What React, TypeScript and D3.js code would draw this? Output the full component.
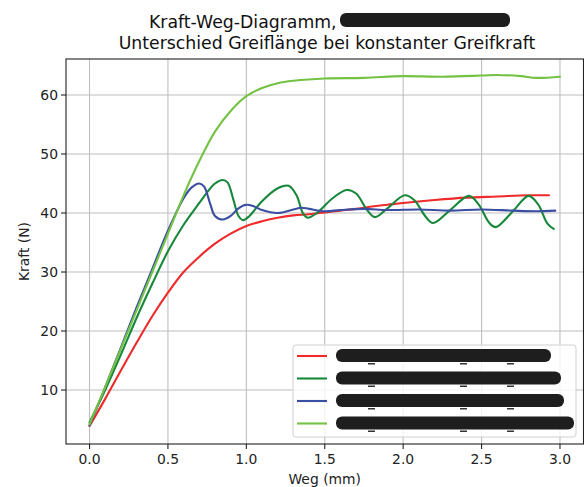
import * as d3 from 'd3'

// Weg (mm) / Kraft (N), one pair of arrays per curve
const wegRot = [0, 0.1, 0.2, 0.3, 0.4, 0.5, 0.6, 0.7, 0.8, 0.9, 1.0, 1.1, 1.2, 1.3, 1.4, 1.5, 1.6, 1.7, 1.8, 1.9, 2.0, 2.2, 2.4, 2.6, 2.8, 2.93]
const kraftRot = [3.9, 8.5, 13.3, 18, 22.5, 26.5, 30, 32.6, 34.8, 36.5, 37.8, 38.6, 39.2, 39.6, 39.8, 40.1, 40.4, 40.7, 41.1, 41.4, 41.7, 42.2, 42.6, 42.8, 43.0, 43.0]

const wegDunkelgruen = [0, 0.1, 0.2, 0.3, 0.4, 0.5, 0.6, 0.7, 0.75, 0.8, 0.85, 0.88, 0.92, 0.95, 0.98, 1.02, 1.1, 1.2, 1.27, 1.32, 1.36, 1.39, 1.45, 1.55, 1.64, 1.7, 1.77, 1.82, 1.9, 2.01, 2.07, 2.14, 2.19, 2.3, 2.42, 2.48, 2.55, 2.59, 2.7, 2.8, 2.86, 2.92, 2.96]
const kraftDunkelgruen = [4.5, 10, 16, 22.2, 28, 33.5, 38, 41.7, 43.5, 45, 45.6, 45.2, 42, 39.5, 38.8, 39.5, 42, 44.2, 44.6, 43, 40, 39.2, 40, 42.5, 43.9, 43.3, 40.5, 39.3, 40.8, 43.0, 42.2, 39.5, 38.3, 40.5, 42.9, 41.5, 38.3, 37.6, 40.3, 42.9, 41.5, 38.2, 37.3]

const wegBlau = [0, 0.1, 0.2, 0.3, 0.4, 0.5, 0.6, 0.65, 0.7, 0.73, 0.77, 0.8, 0.85, 0.9, 0.95, 1.0, 1.05, 1.1, 1.2, 1.3, 1.35, 1.4, 1.5, 1.6, 1.75, 1.9, 2.1, 2.3, 2.5, 2.7, 2.85, 2.97]
const kraftBlau = [4, 10.5, 17.2, 24, 30.5, 37, 42.5, 44.3, 45, 44.5, 41.5, 39.5, 38.9, 39.5, 40.8, 41.4, 41.1, 40.5, 40.0, 40.6, 40.9, 40.7, 40.3, 40.5, 40.7, 40.5, 40.6, 40.4, 40.6, 40.4, 40.3, 40.4]

const wegHellgruen = [0, 0.1, 0.2, 0.3, 0.4, 0.5, 0.6, 0.7, 0.8, 0.9, 1.0, 1.1, 1.2, 1.3, 1.5, 1.75, 2.0, 2.25, 2.5, 2.6, 2.75, 2.85, 3.0]
const kraftHellgruen = [4.2, 10.5, 17, 23.5, 30, 36.5, 43, 48.8, 53.8, 57.3, 59.8, 61.2, 62, 62.4, 62.8, 62.9, 63.2, 63.1, 63.3, 63.4, 63.2, 62.9, 63.1]

const xTicks = [0, 0.5, 1.0, 1.5, 2.0, 2.5, 3.0]
const yTicks = [10, 20, 30, 40, 50, 60]

const series = [
  { weg: wegRot, kraft: kraftRot, color: '#ee2a2a', blob: 215 },
  { weg: wegDunkelgruen, kraft: kraftDunkelgruen, color: '#17873a', blob: 225 },
  { weg: wegBlau, kraft: kraftBlau, color: '#3a4ea2', blob: 228 },
  { weg: wegHellgruen, kraft: kraftHellgruen, color: '#74c243', blob: 238 },
]

const width = 584
const height = 487
const plot = { left: 66, right: 583.5, top: 59, bottom: 444 }
const font = 'DejaVu Sans, sans-serif'

export default function App() {
  const x = d3.scaleLinear().domain([-0.15, 3.15]).range([plot.left, plot.right])
  const y = d3.scaleLinear().domain([0.85, 66.1]).range([plot.bottom, plot.top])

  const line = d3
    .line<[number, number]>()
    .x((d) => x(d[0]))
    .y((d) => y(d[1]))
    .curve(d3.curveCatmullRom.alpha(0.5))

  const legend = { x: 293, y: 345, w: 283, h: 92 }

  return (
    <div style={{ position: 'absolute', left: 0, top: 0 }}>
      <svg width={width} height={height} style={{ display: 'block', background: '#fff' }}>
        {/* title */}
        <text x={149} y={28} fontFamily={font} fontSize={17.3} fill="#111">
          Kraft-Weg-Diagramm,
        </text>
        <rect x={340} y={13} width={170} height={14} rx={6} fill="#1e1e1e" />
        <text x={327} y={49} textAnchor="middle" fontFamily={font} fontSize={17.3} fill="#111">
          Unterschied Greiflänge bei konstanter Greifkraft
        </text>

        {/* grid */}
        <g stroke="#b0b0b0" strokeWidth={1.1} opacity={0.8}>
          {xTicks.map((t) => (
            <line key={'gx' + t} x1={x(t)} x2={x(t)} y1={plot.top} y2={plot.bottom} />
          ))}
          {yTicks.map((t) => (
            <line key={'gy' + t} x1={plot.left} x2={plot.right} y1={y(t)} y2={y(t)} />
          ))}
        </g>

        {/* curves */}
        <g fill="none" strokeWidth={2.1} strokeLinejoin="round" strokeLinecap="round">
          {series.map((s, i) => (
            <path key={i} d={line(s.weg.map((w, j) => [w, s.kraft[j]] as [number, number])) || ''} stroke={s.color} />
          ))}
        </g>

        {/* spines */}
        <rect x={plot.left} y={plot.top} width={plot.right - plot.left} height={plot.bottom - plot.top} fill="none" stroke="#222" strokeWidth={1.1} />

        {/* x axis */}
        <g fontFamily={font} fontSize={13.9} fill="#222">
          {xTicks.map((t) => (
            <g key={'tx' + t}>
              <line x1={x(t)} x2={x(t)} y1={plot.bottom} y2={plot.bottom + 5} stroke="#222" strokeWidth={1.1} />
              <text x={x(t)} y={plot.bottom + 20} textAnchor="middle">
                {d3.format('.1f')(t)}
              </text>
            </g>
          ))}
          <text x={(plot.left + plot.right) / 2} y={484} textAnchor="middle">
            Weg (mm)
          </text>
        </g>

        {/* y axis */}
        <g fontFamily={font} fontSize={13.9} fill="#222">
          {yTicks.map((t) => (
            <g key={'ty' + t}>
              <line x1={plot.left - 5} x2={plot.left} y1={y(t)} y2={y(t)} stroke="#222" strokeWidth={1.1} />
              <text x={plot.left - 8} y={y(t) + 5} textAnchor="end">
                {t}
              </text>
            </g>
          ))}
          <text transform={`translate(29,${(plot.top + plot.bottom) / 2}) rotate(-90)`} textAnchor="middle">
            Kraft (N)
          </text>
        </g>

        {/* legend */}
        <rect x={legend.x} y={legend.y} width={legend.w} height={legend.h} rx={3} fill="#fff" fillOpacity={0.8} stroke="#d0d0d0" strokeWidth={1} />
        {series.map((s, i) => {
          const cy = legend.y + 11 + i * 22.5
          return (
            <g key={'lg' + i}>
              <line x1={legend.x + 4} x2={legend.x + 34} y1={cy} y2={cy} stroke={s.color} strokeWidth={2.1} />
              <g fill="#333">
                <rect x={legend.x + 75} y={cy + 7} width={7} height={1.5} />
                <rect x={legend.x + 167} y={cy + 7} width={7} height={1.5} />
                <rect x={legend.x + 214} y={cy + 7} width={7} height={1.5} />
              </g>
              <rect x={legend.x + 43} y={cy - 7} width={s.blob} height={13} rx={6} fill="#1e1e1e" />
            </g>
          )
        })}
      </svg>
    </div>
  )
}
